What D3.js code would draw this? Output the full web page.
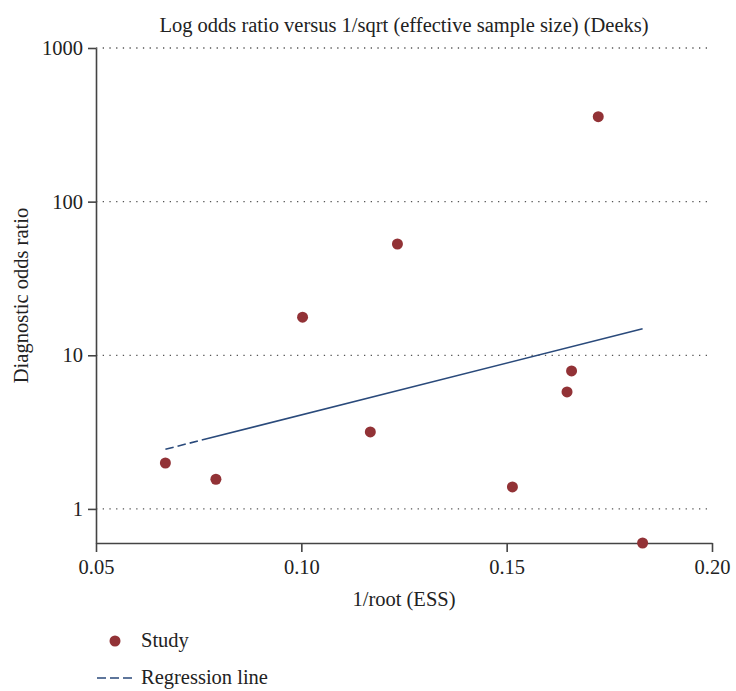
<!DOCTYPE html>
<html>
<head>
<meta charset="utf-8">
<script src="https://cdn.jsdelivr.net/npm/d3@7"></script>
<style>
    body { margin: 0; background: #fff; }
    #chart { font-family: "Liberation Serif", "DejaVu Serif", serif; }
</style>
</head>
<body>
<svg id="chart" width="736" height="691"></svg>
<script>
// study points
var essInv = [0.0669, 0.0792, 0.1003, 0.1168, 0.1234, 0.1514, 0.1647, 0.1658, 0.1723, 0.1831];
var dor    = [1.99,   1.56,   17.7,   3.17,   53.0,   1.39,   5.77,   7.91,   357,    0.60];

// regression of log10(DOR) on 1/root(ESS)
var regIntercept = -0.0632;
var regSlope = 6.751;

var xTicks = [0.05, 0.10, 0.15, 0.20];
var yTicks = [1, 10, 100, 1000];

var margin = {top: 48, right: 24, bottom: 148, left: 96},
    width = 736 - margin.left - margin.right,
    height = 691 - margin.top - margin.bottom;

var fontFamily = '"Liberation Serif", "DejaVu Serif", serif';
var fontSize = "20.5px";
var dotColor = "#923236",
    lineColor = "#2a4a7b",
    axisColor = "#444";

var data = essInv.map(function(d, i) { return {x: d, y: dor[i]}; });

var x = d3.scaleLinear()
    .domain([0.05, 0.20])
    .range([0, width]);

var y = d3.scaleLog()
    .domain([d3.min(dor), 1000])
    .range([height, 0]);

var svg = d3.select("#chart")
    .append("g")
    .attr("transform", "translate(" + margin.left + "," + margin.top + ")");

// dotted grid
svg.selectAll(".grid")
    .data(yTicks)
    .enter()
    .append("line")
    .attr("class", "grid")
    .attr("x1", 0)
    .attr("x2", width)
    .attr("y1", function(d) { return y(d); })
    .attr("y2", function(d) { return y(d); })
    .attr("stroke", "#555")
    .attr("stroke-width", 1.3)
    .style("stroke-dasharray", "1.3,5.4");

var xAxis = d3.axisBottom(x)
    .tickValues(xTicks)
    .tickFormat(d3.format(".2f"))
    .tickSize(9)
    .tickSizeOuter(0);

var yAxis = d3.axisLeft(y)
    .tickValues(yTicks)
    .tickFormat(d3.format("d"))
    .tickSize(8)
    .tickSizeOuter(0);

svg.append("g")
    .attr("class", "x axis")
    .attr("transform", "translate(0," + height + ")")
    .call(xAxis);

svg.append("g")
    .attr("class", "y axis")
    .call(yAxis);

svg.selectAll(".axis")
    .attr("font-family", fontFamily)
    .attr("font-size", 20.5);

svg.selectAll(".axis text")
    .style("font-family", fontFamily)
    .style("fill", "#222");

svg.selectAll(".axis path, .axis line")
    .attr("stroke", axisColor)
    .attr("stroke-width", 1.6);

svg.selectAll(".x.axis text").attr("y", 31).attr("dy", 0);
svg.selectAll(".y.axis text").attr("x", -13);

// regression line, over the range of the studies
var xr = d3.extent(essInv);
svg.append("line")
    .attr("class", "reg")
    .attr("x1", x(xr[0]))
    .attr("y1", y(Math.pow(10, regIntercept + regSlope * xr[0])))
    .attr("x2", x(xr[1]))
    .attr("y2", y(Math.pow(10, regIntercept + regSlope * xr[1])))
    .attr("stroke", lineColor)
    .attr("stroke-width", 1.6)
    .style("stroke-dasharray", "8.5,4,8.5,4,8.5,4,2000");

svg.selectAll(".dot")
    .data(data)
    .enter()
    .append("circle")
    .attr("class", "dot")
    .attr("cx", function(d) { return x(d.x); })
    .attr("cy", function(d) { return y(d.y); })
    .attr("r", 5.5)
    .style("fill", dotColor);

// titles
svg.append("text")
    .attr("x", width / 2)
    .attr("y", -16)
    .style("text-anchor", "middle")
    .style("font-size", fontSize)
    .style("fill", "#222")
    .text("Log odds ratio versus 1/sqrt (effective sample size) (Deeks)");

svg.append("text")
    .attr("x", width / 2)
    .attr("y", height + 63)
    .style("text-anchor", "middle")
    .style("font-size", fontSize)
    .style("fill", "#222")
    .text("1/root (ESS)");

svg.append("text")
    .attr("transform", "rotate(-90)")
    .attr("x", -height / 2)
    .attr("y", -68)
    .style("text-anchor", "middle")
    .style("font-size", fontSize)
    .style("fill", "#222")
    .text("Diagnostic odds ratio");

// legend
var legend = svg.append("g")
    .attr("transform", "translate(0," + (height + 98) + ")");

legend.append("circle")
    .attr("cx", 19)
    .attr("cy", 0)
    .attr("r", 5.5)
    .style("fill", dotColor);

legend.append("text")
    .attr("x", 45)
    .attr("y", 6)
    .style("font-size", fontSize)
    .style("fill", "#222")
    .text("Study");

legend.append("line")
    .attr("x1", 1)
    .attr("x2", 37)
    .attr("y1", 37)
    .attr("y2", 37)
    .attr("stroke", lineColor)
    .attr("stroke-width", 1.6)
    .style("stroke-dasharray", "9,4");

legend.append("text")
    .attr("x", 45)
    .attr("y", 43)
    .style("font-size", fontSize)
    .style("fill", "#222")
    .text("Regression line");
</script>
</body>
</html>
